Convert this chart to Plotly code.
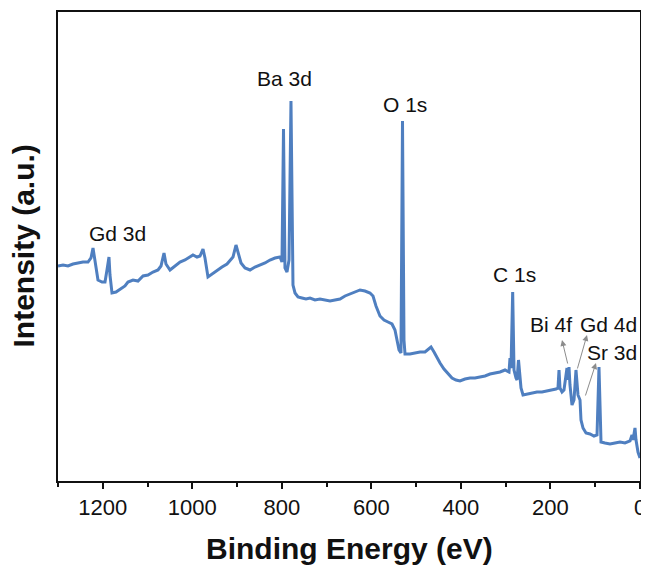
import plotly.graph_objects as go

# XPS survey spectrum
binding_energy = [
    1300.0, 1288.8, 1277.7, 1266.5, 1255.3, 1244.2, 1233.0, 1226.3, 1221.8, 1217.4,
    1210.7, 1201.7, 1195.0, 1190.6, 1186.1, 1183.9, 1179.4, 1170.5, 1161.5, 1150.4,
    1143.7, 1132.5, 1121.3, 1110.1, 1099.0, 1087.8, 1076.6, 1069.9, 1063.2, 1058.8,
    1049.8, 1038.7, 1027.5, 1016.3, 1005.2, 998.5, 989.5, 982.8, 976.1, 971.7,
    965.0, 956.0, 944.9, 933.7, 922.5, 915.8, 909.1, 902.4, 897.9, 891.2,
    882.3, 871.1, 860.0, 848.8, 837.6, 826.5, 815.3, 804.1, 799.7, 796.3,
    793.0, 788.5, 784.0, 779.6, 777.3, 775.1, 770.6, 763.9, 755.0, 746.1,
    737.1, 726.0, 714.8, 703.6, 692.4, 681.3, 670.1, 658.9, 647.8, 636.6,
    625.4, 614.3, 603.1, 596.4, 589.7, 580.8, 571.8, 562.9, 554.0, 547.3,
    542.8, 538.3, 533.9, 530.5, 527.2, 524.9, 513.8, 502.6, 491.4, 480.2,
    473.5, 466.8, 460.1, 453.4, 446.7, 437.8, 428.9, 419.9, 411.0, 402.1,
    390.9, 379.7, 368.6, 357.4, 346.2, 335.1, 323.9, 312.7, 301.5, 297.1,
    292.6, 290.4, 288.1, 284.4, 281.4, 277.0, 274.7, 271.4, 268.0, 265.8,
    261.3, 252.4, 241.2, 230.1, 218.9, 207.7, 196.6, 187.6, 183.2, 180.9,
    178.7, 174.2, 169.8, 165.3, 163.1, 160.8, 158.6, 156.4, 151.9, 147.4,
    143.0, 138.5, 134.0, 131.8, 127.3, 120.6, 111.7, 102.8, 96.0, 91.6,
    89.3, 87.1, 78.2, 67.0, 55.8, 44.7, 33.5, 22.3, 17.9, 15.6,
    11.2, 8.9, 4.5, 0.0,
]
intensity = [
    45.84, 46.06, 45.84, 46.27, 46.48, 46.69, 46.69, 47.55, 49.68, 46.69,
    42.86, 42.43, 42.43, 44.99, 47.76, 43.92, 40.09, 40.30, 40.94, 41.58,
    42.43, 42.86, 42.64, 43.71, 43.92, 44.56, 44.99, 45.84, 48.61, 46.27,
    44.99, 45.84, 46.69, 47.12, 47.76, 48.19, 47.76, 47.97, 49.47, 47.55,
    43.50, 44.14, 44.99, 45.63, 46.27, 47.12, 47.76, 50.32, 48.83, 46.48,
    45.42, 44.99, 45.63, 46.06, 46.48, 47.12, 47.55, 47.76, 46.69, 75.05,
    45.42, 44.56, 47.12, 81.02, 49.25, 41.79, 40.09, 39.23, 39.02, 38.81,
    39.02, 38.59, 38.81, 38.59, 38.38, 38.59, 38.81, 39.45, 39.87, 40.30,
    40.73, 40.51, 40.09, 39.45, 37.31, 35.18, 34.33, 33.90, 33.48, 32.20,
    30.06, 27.93, 27.29, 76.76, 30.06, 27.08, 27.08, 27.29, 27.51, 27.51,
    28.14, 28.57, 27.51, 26.23, 25.16, 23.88, 22.81, 21.96, 21.54, 21.32,
    21.75, 21.96, 21.96, 22.17, 22.39, 22.81, 23.03, 23.24, 23.67, 23.45,
    23.24, 26.23, 24.09, 40.30, 23.67, 21.96, 21.54, 25.80, 22.60, 19.83,
    18.34, 18.55, 18.76, 18.98, 18.98, 19.19, 19.40, 19.62, 19.83, 23.67,
    19.83, 18.98, 19.40, 23.24, 24.09, 21.54, 24.31, 20.47, 16.20, 17.27,
    23.67, 18.34, 17.27, 13.01, 11.30, 10.23, 10.02, 9.59, 9.81, 24.31,
    11.94, 8.32, 8.10, 7.89, 8.10, 8.32, 8.10, 8.53, 9.81, 8.74,
    11.30, 8.74, 6.18, 4.90,
]

# Peak labels: text, label position (eV, a.u.)
label_text = ["Gd 3d", "Ba 3d", "O 1s", "C 1s", "Bi 4f", "Gd 4d", "Sr 3d"]
label_be = [1166, 793, 525, 280, 197.7, 70.4, 62.5]
label_int = [52.7, 85.9, 80.2, 44.1, 33.3, 33.3, 27.3]

# Arrows: head (near label) and tail (near peak)
arrow_head_be = [174.2, 118.4, 98.3]
arrow_head_int = [30.06, 31.13, 25.16]
arrow_tail_be = [160.8, 140.7, 122.9]
arrow_tail_int = [24.73, 23.67, 17.91]

x_ticks = [1200, 1000, 800, 600, 400, 200, 0]

FONT = "Arial, 'Liberation Sans', sans-serif"
INK = "#111111"

fig = go.Figure()
fig.add_trace(go.Scatter(
    x=binding_energy, y=intensity, mode="lines",
    line=dict(color="#4F7FC0", width=3),
    showlegend=False, hoverinfo="skip",
))

annotations = []
for t, bx, by in zip(label_text, label_be, label_int):
    annotations.append(dict(
        x=bx, y=by, xref="x", yref="y", text=t, showarrow=False,
        font=dict(family=FONT, size=21, color=INK),
        xanchor="center", yanchor="middle",
    ))
for hx, hy, tx, ty in zip(arrow_head_be, arrow_head_int, arrow_tail_be, arrow_tail_int):
    annotations.append(dict(
        x=hx, y=hy, ax=tx, ay=ty, xref="x", yref="y", axref="x", ayref="y",
        text="", showarrow=True, arrowhead=2, arrowsize=1.2, arrowwidth=1,
        arrowcolor="#8c8c8c",
    ))
# Axis titles
annotations.append(dict(
    x=0.5, y=0, xref="paper", yref="paper", yshift=-67,
    text="<b>Binding Energy (eV)</b>", showarrow=False,
    font=dict(family=FONT, size=30, color=INK),
    xanchor="center", yanchor="middle",
))
annotations.append(dict(
    x=0, y=0.5, xref="paper", yref="paper", xshift=-35,
    text="<b>Intensity (a.u.)</b>", showarrow=False, textangle=-90,
    font=dict(family=FONT, size=30, color=INK),
    xanchor="center", yanchor="middle",
))

# The page body has an 8px default margin, so the figure is 8px smaller
fig.update_layout(
    width=641, height=564,
    margin=dict(l=50, r=9, t=4, b=91, autoexpand=False),
    paper_bgcolor="white", plot_bgcolor="white",
    font=dict(family=FONT, color=INK),
    annotations=annotations,
    xaxis=dict(
        range=[1300, 0], tickmode="array", tickvals=x_ticks,
        ticks="outside", ticklen=6, tickwidth=2, tickcolor=INK,
        minor=dict(dtick=100, ticks="outside", ticklen=4, tickwidth=2, tickcolor=INK),
        showline=True, linecolor=INK, linewidth=2, mirror=True,
        showgrid=False, zeroline=False, automargin=False,
        tickfont=dict(family=FONT, size=22, color=INK),
    ),
    yaxis=dict(
        range=[0, 100], showticklabels=False, ticks="",
        showline=True, linecolor=INK, linewidth=2, mirror=True,
        showgrid=False, zeroline=False, automargin=False,
    ),
)

fig.write_html("out.html")
